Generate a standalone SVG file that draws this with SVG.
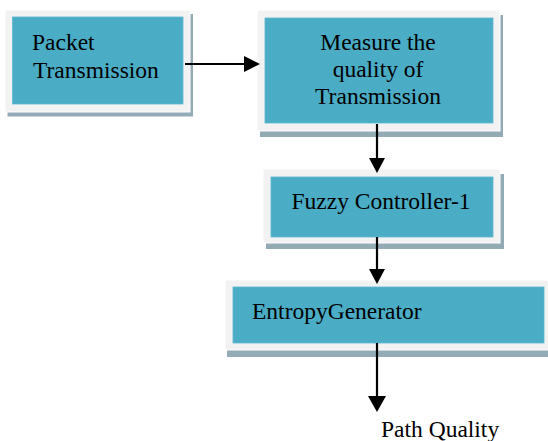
<svg xmlns="http://www.w3.org/2000/svg" width="548" height="441" viewBox="0 0 548 441">
  <style>
    .shadow { fill: #93abb5; }
    .frame { fill: #f2f2f2; stroke: #ffffff; stroke-width: 1; }
    .body { fill: #4bacc6; stroke: #5bb8d0; stroke-width: 0.8; }
    .label { font-family: 'Liberation Serif', 'Times New Roman', serif; font-size: 23.5px; fill: #000000; }
    .mid { text-anchor: middle; }
    .link { stroke: #000000; stroke-width: 2.2; fill: none; }
    .head { fill: #000000; }
  </style>
  <rect width="548" height="441" fill="#ffffff"/>

  <g id="packet-transmission">
    <rect class="shadow" x="7.5" y="14" width="185.5" height="102.5"/>
    <rect class="frame" x="5" y="10" width="185" height="102"/>
    <rect class="body" x="12.5" y="17" width="170.5" height="87"/>
    <text class="label" x="32" y="50">Packet</text>
    <text class="label" x="33" y="78">Transmission</text>
  </g>

  <g id="measure-quality">
    <rect class="shadow" x="260" y="15" width="243" height="122"/>
    <rect class="frame" x="257" y="10" width="243" height="121"/>
    <rect class="body" x="265" y="18" width="228" height="105"/>
    <text class="label mid" x="378" y="50">Measure the</text>
    <text class="label mid" x="378" y="77">quality of</text>
    <text class="label mid" x="378" y="104">Transmission</text>
  </g>

  <g id="fuzzy-controller">
    <rect class="shadow" x="266" y="174" width="238" height="75"/>
    <rect class="frame" x="263" y="169" width="237" height="74"/>
    <rect class="body" x="271" y="177" width="222" height="60"/>
    <text class="label mid" x="381" y="209">Fuzzy Controller-1</text>
  </g>

  <g id="entropy-generator">
    <rect class="shadow" x="227" y="285" width="330" height="72"/>
    <rect class="frame" x="225" y="280" width="330" height="70"/>
    <rect class="body" x="233" y="287" width="311" height="56"/>
    <text class="label" x="252" y="319">EntropyGenerator</text>
  </g>

  <g id="path-quality">
    <text class="label" x="381" y="437">Path Quality</text>
  </g>

  <g id="connectors">
    <line class="link" x1="185" y1="64" x2="246" y2="64"/>
    <polygon class="head" points="260,64 244,56 244,72"/>

    <line class="link" x1="377" y1="124" x2="377" y2="160"/>
    <polygon class="head" points="377,173 369,158 385,158"/>

    <line class="link" x1="377" y1="237" x2="377" y2="271"/>
    <polygon class="head" points="377,284 369,269 385,269"/>

    <line class="link" x1="377" y1="343" x2="377" y2="399"/>
    <polygon class="head" points="377,412 368,396 386,396"/>
  </g>
</svg>
